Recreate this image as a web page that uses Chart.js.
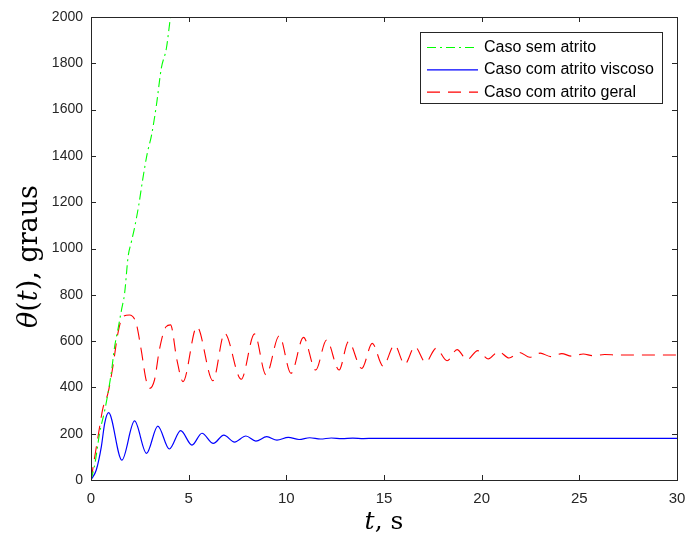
<!DOCTYPE html>
<html>
<head>
<meta charset="utf-8">
<script src="https://cdn.jsdelivr.net/npm/chart.js@4"></script>
<style>
  html, body { margin: 0; padding: 0; background: #fff; }
  #wrap { position: relative; width: 688px; height: 542px; }
</style>
</head>
<body>
<div id="wrap"><canvas id="c" width="688" height="542"></canvas></div>
<script>
// ── θ(t) em graus, três casos do pêndulo ──
const labels = ['Caso sem atrito', 'Caso com atrito viscoso', 'Caso com atrito geral']

const tSem = [0, 0.2, 0.44, 0.7, 0.87, 1.05, 1.21, 1.4, 1.56, 1.72, 1.9, 2.07, 2.24, 2.45, 2.65, 2.88, 3.1, 3.35, 3.6, 3.86, 4.07, 4.25]
const ySem = [0, 70, 202, 300, 375, 470, 576, 660, 734, 806, 965, 1030, 1094, 1190, 1300, 1411, 1490, 1620, 1779, 1865, 2000, 2090]

const tVisc = [0, 0.27, 0.53, 0.7, 0.9, 1.58, 2.23, 2.84, 3.42, 4.01, 4.59, 5.17, 5.68, 6.26, 6.8, 7.35, 7.93, 8.44, 9.0, 9.52,
               10.1, 10.65, 11.2, 11.75, 12.3, 12.85, 13.4, 13.95, 14.5, 15.5, 30]
const yVisc = [0, 43, 144, 245, 291, 86, 255, 115, 233, 134, 213, 151, 202, 158, 194, 164, 190, 168, 187, 172,
               184, 175, 182.5, 177, 181.5, 178.5, 181, 179, 180, 180, 180]

const tGeral = [0, 0.36, 0.61, 0.87, 1.12, 1.38, 1.63, 1.97, 2.31, 2.57, 2.82, 3.0, 3.25, 3.5, 3.84, 4.07, 4.4, 4.71,
                5.42, 6.24, 6.84, 7.69, 8.37, 8.96, 9.64, 10.24, 10.88, 11.5, 12.06, 12.7, 13.18, 13.86, 14.4, 14.95,
                15.54, 16.06, 16.58, 17.13, 17.67, 18.23, 18.74, 19.25, 19.8, 20.33, 20.87, 21.4, 21.94, 22.47, 23.0,
                23.54, 24.1, 24.6, 25.2, 25.7, 26.3, 27, 30]
const yGeral = [0, 187, 310, 375, 490, 634, 706, 713, 677, 562, 432, 396, 432, 562, 662, 670, 518, 425,
                662, 429, 634, 435, 631, 454, 623, 461, 616, 475, 605, 475, 598, 482, 590, 492,
                583, 500, 576, 508, 569, 515, 563, 520, 559, 523, 555, 527, 551, 530, 548,
                533, 546, 535, 544, 537, 542, 540, 540]

const xTicks = [0, 5, 10, 15, 20, 25, 30]
const yTicks = [0, 200, 400, 600, 800, 1000, 1200, 1400, 1600, 1800, 2000]

const pts = (ts, ys) => ts.map((t, i) => ({ x: t, y: ys[i] }))
const AX = '#262626'

// moldura com ticks para dentro, títulos dos eixos e legenda
const framePlugin = {
  id: 'frame',
  afterDraw(chart) {
    const { ctx, chartArea: a, scales: { x, y } } = chart
    ctx.save()
    ctx.strokeStyle = AX
    ctx.lineWidth = 1
    ctx.setLineDash([])
    ctx.strokeRect(Math.round(a.left) + 0.5, Math.round(a.top) + 0.5,
                   Math.round(a.right - a.left), Math.round(a.bottom - a.top))
    ctx.beginPath()
    xTicks.forEach(v => {
      const px = Math.round(x.getPixelForValue(v)) + 0.5
      ctx.moveTo(px, a.bottom); ctx.lineTo(px, a.bottom - 5)
      ctx.moveTo(px, a.top);    ctx.lineTo(px, a.top + 5)
    })
    yTicks.forEach(v => {
      const py = Math.round(y.getPixelForValue(v)) + 0.5
      ctx.moveTo(a.left, py);  ctx.lineTo(a.left + 5, py)
      ctx.moveTo(a.right, py); ctx.lineTo(a.right - 5, py)
    })
    ctx.stroke()

    // títulos (t em itálico)
    ctx.fillStyle = '#000'
    ctx.textBaseline = 'alphabetic'
    const runs = (parts) => {
      let w = 0
      parts.forEach(p => { ctx.font = p[1]; w += ctx.measureText(p[0]).width })
      return w
    }
    const drawRuns = (parts, x0, y0) => {
      let cx = x0
      parts.forEach(p => { ctx.font = p[1]; ctx.fillText(p[0], cx, y0); cx += ctx.measureText(p[0]).width })
    }
    const xt = [['t', 'italic 25px "DejaVu Serif"'], [', s', '25px "DejaVu Serif"']]
    drawRuns(xt, (a.left + a.right) / 2 - runs(xt) / 2, 529)

    const it = 'italic 27px "DejaVu Serif"', up = '27px "DejaVu Serif"'
    const yt = [['θ', it], ['(', up], ['t', it], ['), graus', up]]
    ctx.save()
    ctx.translate(37, (a.top + a.bottom) / 2 + 8)
    ctx.rotate(-Math.PI / 2)
    drawRuns(yt, -runs(yt) / 2, 0)
    ctx.restore()

    // legenda
    const L = 420, T = 32, W = 242, H = 71
    ctx.fillStyle = '#fff'
    ctx.fillRect(L, T, W, H)
    ctx.strokeStyle = AX
    ctx.strokeRect(L + 0.5, T + 0.5, W, H)
    ctx.font = '16px "Liberation Sans"'
    ctx.textBaseline = 'middle'
    chart.data.datasets.forEach((ds, i) => {
      const ry = T + 15.5 + i * 22.3
      ctx.beginPath()
      ctx.strokeStyle = ds.borderColor
      ctx.lineWidth = ds.borderWidth
      ctx.setLineDash(ds.borderDash || [])
      ctx.moveTo(427, ry); ctx.lineTo(478, ry)
      ctx.stroke()
      ctx.setLineDash([])
      ctx.fillStyle = '#000'
      ctx.fillText(ds.label, 484, ry)
    })
    ctx.restore()
  }
}

const line = (label, data, color, dash, width) => ({
  label, data,
  borderColor: color, borderWidth: width, borderDash: dash,
  pointRadius: 0, fill: false,
  cubicInterpolationMode: 'monotone',
})

new Chart(document.getElementById('c'), {
  type: 'line',
  data: {
    datasets: [
      line(labels[0], pts(tSem, ySem), '#00ff00', [9, 4, 2, 4], 1.1),
      line(labels[1], pts(tVisc, yVisc), '#0000ff', [], 1.2),
      line(labels[2], pts(tGeral, yGeral), '#ff0000', [13, 8], 1.1),
    ]
  },
  options: {
    responsive: false, animation: false, devicePixelRatio: 1,
    layout: { padding: { left: 0, right: 11, top: 17, bottom: 0 } },
    plugins: { legend: { display: false }, tooltip: { enabled: false } },
    scales: {
      x: {
        type: 'linear', min: 0, max: 30,
        afterBuildTicks: s => { s.ticks = xTicks.map(v => ({ value: v })) },
        afterFit: s => { s.height = 62; s.paddingLeft = 0; s.paddingRight = 0 },
        ticks: { color: AX, font: { family: 'Liberation Sans', size: 15 }, padding: 10, maxRotation: 0,
                 callback: v => String(v) },
        grid: { display: false, drawTicks: false }, border: { display: false },
      },
      y: {
        type: 'linear', min: 0, max: 2000,
        afterBuildTicks: s => { s.ticks = yTicks.map(v => ({ value: v })) },
        afterFit: s => { s.width = 91; s.paddingTop = 0; s.paddingBottom = 0 },
        ticks: { color: AX, font: { family: 'Liberation Sans', size: 14 }, padding: 8,
                 callback: v => String(v) },
        grid: { display: false, drawTicks: false }, border: { display: false },
      },
    },
  },
  plugins: [framePlugin],
})
</script>
</body>
</html>
